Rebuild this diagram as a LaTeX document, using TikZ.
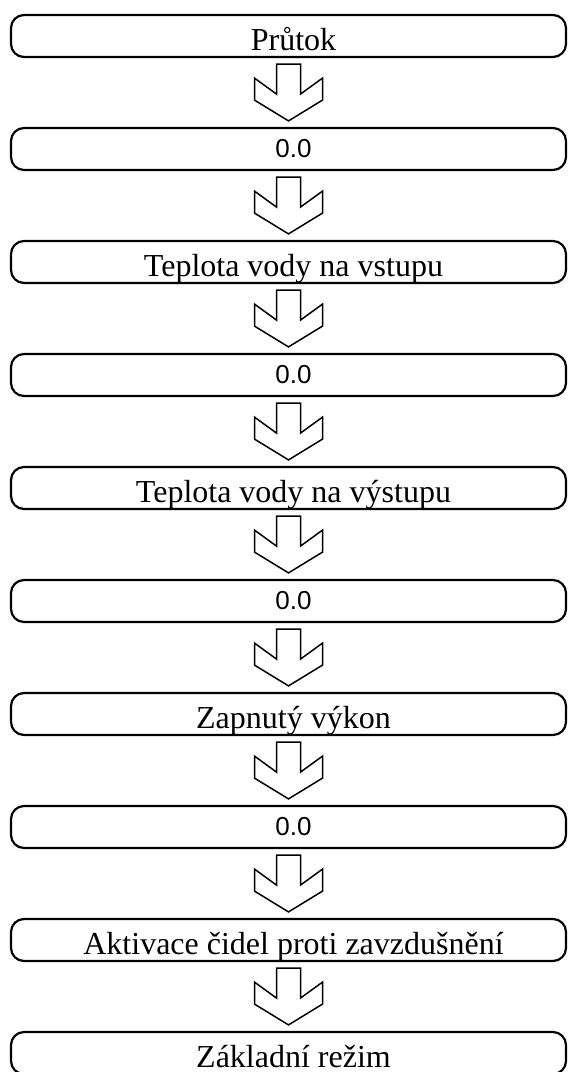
\documentclass[tikz,border=0pt]{standalone}
\usepackage{fontspec}
\setmainfont{Liberation Serif}
\setsansfont{Liberation Sans}
\usetikzlibrary{shapes,arrows,calc}
\tikzstyle{r} = [rectangle, rounded corners=6.5pt, minimum width=277.5pt, minimum height=21pt, inner sep=0pt, text centered, draw=black, line width=1.1pt, font=\fontsize{16}{16}\selectfont, text height=14pt, text depth=0pt, execute at begin node=\hspace*{5pt}]
\tikzstyle{v} = [r, font=\sffamily\fontsize{13}{13}\selectfont, text height=8pt]
\tikzstyle{a} = [draw=black, line width=0.75pt, line join=miter]
\newcommand{\flow}[2]{\draw[a,xshift=2.25pt] ($(#1.south)+(-6pt,-3pt)$) -- ($(#1.south)+(6pt,-3pt)$) -- ($(#1.south)+(6pt,-18pt)$) -- ($(#1.south)+(17pt,-10pt)$) -- ($(#1.south)+(17pt,-21pt)$) -- ($(#2.north)+(0,3pt)$) -- ($(#1.south)+(-17pt,-21pt)$) -- ($(#1.south)+(-17pt,-10pt)$) -- ($(#1.south)+(-6pt,-18pt)$) -- cycle;}

\begin{document}
\begin{tikzpicture}[node distance=56.5pt]
			\useasboundingbox (0,0) rectangle (284pt,-536pt);
			\node[r](1) at (144.25pt,-18pt){Průtok};
			\node[v,below of=1](2){0.0};
			\node[r,below of=2](3){Teplota vody na vstupu};
			\node[v,below of=3](4){0.0};
			\node[r,below of=4](5){Teplota vody na výstupu};
			\node[v,below of=5](6){0.0};
			\node[r,below of=6](7){Zapnutý výkon};
			\node[v,below of=7](8){0.0};
			\node[r,below of=8](9){Aktivace čidel proti zavzdušnění};
			\node[r,below of=9](10){Základní režim};
			
			\flow{1}{2} \flow{2}{3} \flow{3}{4}
			\flow{4}{5} \flow{5}{6} \flow{6}{7}
			\flow{7}{8} \flow{8}{9} \flow{9}{10}
			\end{tikzpicture}
\end{document}
